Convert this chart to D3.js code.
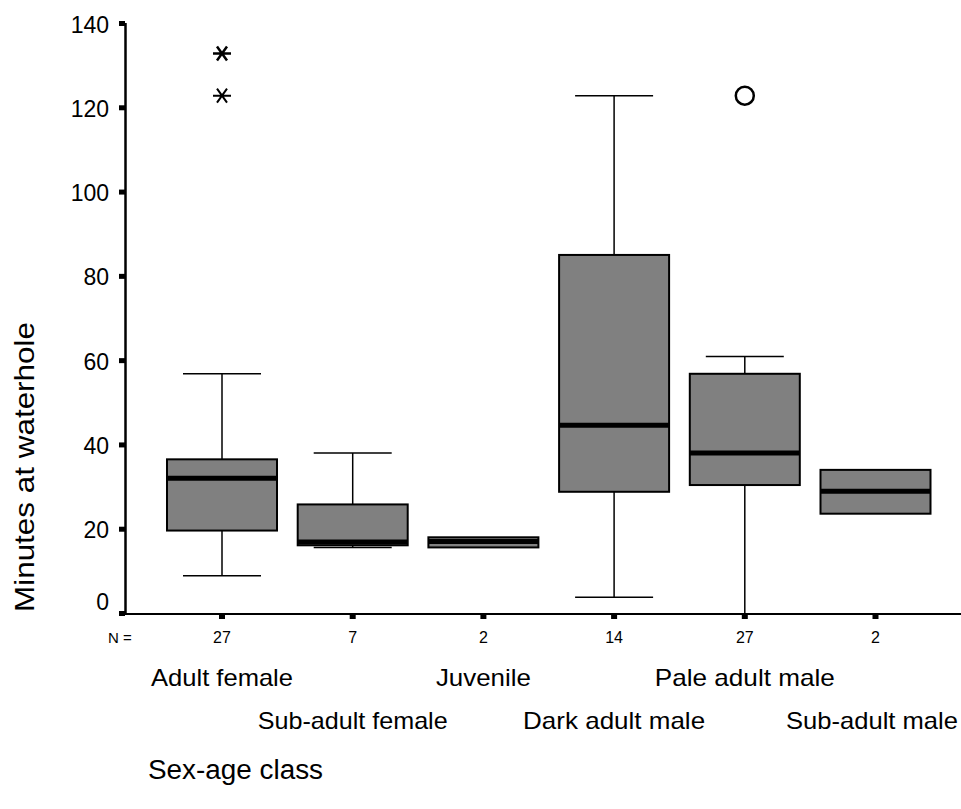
<!DOCTYPE html>
<html>
<head>
<meta charset="utf-8">
<script src="https://cdn.jsdelivr.net/npm/d3@7"></script>
<style>
  html, body { margin: 0; padding: 0; background: #fff; }
  svg { display: block; font-family: "Liberation Sans", Arial, sans-serif; }
</style>
</head>
<body>
<svg id="chart" width="961" height="809"></svg>
<script>
// ---- data ----
const categories = ["Adult female", "Sub-adult female", "Juvenile", "Dark adult male", "Pale adult male", "Sub-adult male"];
const nCounts    = [27, 7, 2, 14, 27, 2];
const q1Values     = [19.8, 16.3, 15.8, 29.0, 30.6, 23.8];
const medianValues = [32.2, 17.1, 17.2, 44.8, 38.2, 29.1];
const q3Values     = [36.7, 26.0, 18.2, 85.2, 57.0, 34.2];
const whiskerLow   = [9.1, 15.8, null, 4.0, 0.0, null];
const whiskerHigh  = [57.0, 38.2, null, 123.0, 61.1, null];
const extremeCats  = ["Adult female", "Adult female"];
const extremeVals  = [133, 123];
const outlierCats  = ["Pale adult male"];
const outlierVals  = [123];
const yTicks = [0, 20, 40, 60, 80, 100, 120, 140];
const labelRow = [0, 1, 0, 1, 0, 1];
const labelWidths = [142, 190, 95, 182, 180, 172];

// ---- layout ----
const svg = d3.select("#chart");
const y = d3.scaleLinear().domain([0, 140]).range([614, 24]);
const x = d3.scalePoint().domain(categories).range([222, 875.5]);
const boxW = 110, capW = 78;

// axes
const yAxisX = 125.5;
svg.append("line").attr("x1", yAxisX).attr("x2", yAxisX).attr("y1", y(140) - 1).attr("y2", y(0) + 1)
  .attr("stroke", "#000").attr("stroke-width", 2.5);
svg.append("line").attr("x1", yAxisX - 1).attr("x2", 961).attr("y1", y(0)).attr("y2", y(0))
  .attr("stroke", "#000").attr("stroke-width", 2);

// y ticks
svg.selectAll("rect.yt").data(yTicks).enter().append("rect")
  .attr("x", 119).attr("y", d => y(d) - 3).attr("width", 6).attr("height", 5).attr("fill", "#000");
svg.selectAll("text.yl").data(yTicks).enter().append("text")
  .attr("x", 109).attr("y", d => (d === 0 ? y(d) - 13 : y(d)) + 8.5)
  .attr("text-anchor", "end").attr("font-size", 23).text(d => d);

// x ticks
svg.selectAll("rect.xt").data(categories).enter().append("rect")
  .attr("x", d => x(d) - 3).attr("y", y(0)).attr("width", 6).attr("height", 5).attr("fill", "#000");

// N labels
svg.append("text").attr("x", 108).attr("y", 643).attr("font-size", 15).text("N =");
svg.selectAll("text.n").data(categories).enter().append("text")
  .attr("x", (d) => x(d)).attr("y", 643).attr("text-anchor", "middle").attr("font-size", 16)
  .text((d, i) => nCounts[i]);

// category labels
svg.selectAll("text.cat").data(categories).enter().append("text")
  .attr("x", (d, i) => i === categories.length - 1 ? 958 - labelWidths[i] / 2 : x(d))
  .attr("y", (d, i) => labelRow[i] ? 729 : 686)
  .attr("text-anchor", "middle").attr("font-size", 24)
  .attr("textLength", (d, i) => labelWidths[i]).attr("lengthAdjust", "spacingAndGlyphs")
  .text(d => d);

// axis titles
svg.append("text").attr("x", 148).attr("y", 779).attr("font-size", 27)
  .attr("textLength", 175).attr("lengthAdjust", "spacingAndGlyphs").text("Sex-age class");
svg.append("text").attr("transform", "translate(34,467) rotate(-90)").attr("text-anchor", "middle")
  .attr("font-size", 28).attr("textLength", 290).attr("lengthAdjust", "spacingAndGlyphs").text("Minutes at waterhole");

// whiskers and boxes
const g = svg.append("g");
categories.forEach((c, i) => {
  const cx = x(c);
  if (whiskerHigh[i] != null) {
    g.append("line").attr("x1", cx).attr("x2", cx).attr("y1", y(q3Values[i])).attr("y2", y(whiskerHigh[i]))
      .attr("stroke", "#000").attr("stroke-width", 1.5);
    g.append("line").attr("x1", cx - capW / 2).attr("x2", cx + capW / 2).attr("y1", y(whiskerHigh[i])).attr("y2", y(whiskerHigh[i]))
      .attr("stroke", "#000").attr("stroke-width", 1.5);
  }
  if (whiskerLow[i] != null) {
    g.append("line").attr("x1", cx).attr("x2", cx).attr("y1", y(q1Values[i])).attr("y2", y(whiskerLow[i]))
      .attr("stroke", "#000").attr("stroke-width", 1.5);
    g.append("line").attr("x1", cx - capW / 2).attr("x2", cx + capW / 2).attr("y1", y(whiskerLow[i])).attr("y2", y(whiskerLow[i]))
      .attr("stroke", "#000").attr("stroke-width", 1.5);
  }
  g.append("rect").attr("x", cx - boxW / 2).attr("y", y(q3Values[i]))
    .attr("width", boxW).attr("height", y(q1Values[i]) - y(q3Values[i]))
    .attr("fill", "#808080").attr("stroke", "#000").attr("stroke-width", 2);
  g.append("line").attr("x1", cx - boxW / 2).attr("x2", cx + boxW / 2).attr("y1", y(medianValues[i])).attr("y2", y(medianValues[i]))
    .attr("stroke", "#000").attr("stroke-width", 5);
});

// extremes (asterisks)
extremeVals.forEach((v, i) => {
  const cx = x(extremeCats[i]), cy = y(v);
  const p = d3.path();
  p.moveTo(cx - 9, cy); p.lineTo(cx + 9, cy);
  p.moveTo(cx - 5, cy - 7); p.lineTo(cx + 5, cy + 7);
  p.moveTo(cx + 5, cy - 7); p.lineTo(cx - 5, cy + 7);
  svg.append("path").attr("d", p.toString()).attr("stroke", "#000").attr("stroke-width", i === 0 ? 2.5 : 2).attr("fill", "none");
});

// outliers (circles)
svg.selectAll("circle.out").data(outlierVals).enter().append("circle")
  .attr("cx", (d, i) => x(outlierCats[i])).attr("cy", d => y(d)).attr("r", 9)
  .attr("fill", "none").attr("stroke", "#000").attr("stroke-width", 2.5);
</script>
</body>
</html>
